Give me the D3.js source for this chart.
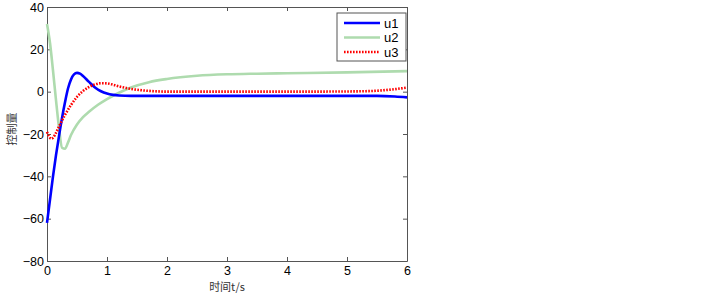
<!DOCTYPE html>
<html>
<head>
<meta charset="utf-8">
<script src="https://cdn.jsdelivr.net/npm/d3@7"></script>
<style>
  body { margin: 0; background: #fff; }
  svg { font-family: "Liberation Sans", Arial, sans-serif; }
  .axis path, .axis line { stroke: #555; }
  .axis text { fill: #000; font-size: 12.5px; }
</style>
</head>
<body>
<svg id="graph" width="722" height="294"></svg>
<script>
// values
var u1T = [0, 0.05, 0.1, 0.15, 0.2, 0.25, 0.3, 0.35, 0.4, 0.45, 0.5, 0.55, 0.6, 0.7, 0.8, 0.9, 1.0, 1.1, 1.2, 1.4, 1.7, 2.0, 3.0, 4.0, 5.0, 5.5, 5.8, 6.0];
var u1V = [-62, -51, -40, -30, -21, -12.5, -5, 1.5, 5.8, 8.2, 8.9, 8.5, 7.4, 4.6, 2, 0.2, -0.9, -1.5, -1.8, -2, -2, -2, -2, -2, -2, -2, -2.3, -2.7];
var u2T = [0, 0.05, 0.1, 0.15, 0.2, 0.25, 0.3, 0.35, 0.4, 0.5, 0.6, 0.7, 0.85, 1.0, 1.2, 1.4, 1.7, 2.0, 2.5, 3.0, 3.5, 4.0, 5.0, 6.0];
var u2V = [32, 23, 10, -4, -17, -26.5, -27, -24, -20.5, -15.5, -12, -9.5, -6.2, -3.5, -0.5, 2, 4.5, 6, 7.5, 8.2, 8.5, 8.7, 9.1, 9.7];
var u3T = [0, 0.03, 0.07, 0.1, 0.15, 0.2, 0.3, 0.4, 0.5, 0.6, 0.7, 0.8, 0.9, 1.0, 1.1, 1.2, 1.4, 1.6, 1.8, 2.0, 3.0, 4.0, 5.0, 5.4, 5.7, 6.0];
var u3V = [-19, -21, -22.2, -21.8, -19.5, -16.5, -11, -6.3, -2.5, 0.3, 2.2, 3.4, 4, 3.9, 3.3, 2.5, 1.3, 0.6, 0.2, 0, 0, 0, 0.1, 0.3, 0.9, 1.9];
var seriesNames = ['u1', 'u2', 'u3'];
var xTicks = [0, 1, 2, 3, 4, 5, 6];
var yTicks = [-80, -60, -40, -20, 0, 20, 40];

var margin = { top: 7, left: 47, bottom: 33, right: 315 };
var width = 722 - margin.left - margin.right;
var height = 294 - margin.top - margin.bottom;

var xScale = d3.scaleLinear().domain([0, 6]).range([0, width]);
var yScale = d3.scaleLinear().domain([-80, 40]).range([height, 0]);
var fmt = d3.format('d');

var svg = d3.select('#graph')
    .append('g')
    .attr('transform', 'translate(' + margin.left + ',' + margin.top + ')');

// box + inside ticks
svg.append('g').attr('class', 'x axis')
    .attr('transform', 'translate(0,' + height + ')')
    .call(d3.axisBottom(xScale).tickValues(xTicks).tickSizeInner(-4).tickSizeOuter(0).tickPadding(5).tickFormat(fmt));
svg.append('g').attr('class', 'x axis')
    .call(d3.axisTop(xScale).tickValues(xTicks).tickSizeInner(-4).tickSizeOuter(0).tickFormat(''));
svg.append('g').attr('class', 'y axis')
    .call(d3.axisLeft(yScale).tickValues(yTicks).tickSizeInner(-4).tickSizeOuter(0).tickPadding(3).tickFormat(fmt));
svg.append('g').attr('class', 'y axis')
    .attr('transform', 'translate(' + width + ',0)')
    .call(d3.axisRight(yScale).tickValues(yTicks).tickSizeInner(-4).tickSizeOuter(0).tickFormat(''));

var line = d3.line()
    .x(function (d) { return xScale(d[0]); })
    .y(function (d) { return yScale(d[1]); })
    .curve(d3.curveMonotoneX);

var styles = [
    { color: '#0000ff', width: 2.6, dash: null },
    { color: '#aedbae', width: 2.6, dash: null },
    { color: '#ff0000', width: 2.6, dash: '1.6,1.4' }
];
var data = [d3.zip(u1T, u1V), d3.zip(u2T, u2V), d3.zip(u3T, u3V)];

// draw green under the others
[1, 0, 2].forEach(function (i) {
    svg.append('path')
        .datum(data[i])
        .attr('fill', 'none')
        .attr('stroke', styles[i].color)
        .attr('stroke-width', styles[i].width)
        .attr('stroke-dasharray', styles[i].dash)
        .attr('d', line);
});

// legend
var legend = svg.append('g').attr('transform', 'translate(' + (width - 70) + ',6)');
legend.append('rect')
    .attr('width', 69).attr('height', 48)
    .attr('fill', '#fff').attr('stroke', '#555');
seriesNames.forEach(function (name, i) {
    var y = 10 + i * 14.5;
    legend.append('line')
        .attr('x1', 7).attr('x2', 43).attr('y1', y).attr('y2', y)
        .attr('stroke', styles[i].color)
        .attr('stroke-width', styles[i].width)
        .attr('stroke-dasharray', styles[i].dash);
    legend.append('text')
        .attr('x', 47).attr('y', y + 4.5)
        .style('font-size', '13px')
        .text(name);
});

// axis labels
svg.append('text')
    .attr('x', xScale(3)).attr('y', height + 30)
    .attr('text-anchor', 'middle')
    .style('font-family', '"Noto Sans CJK SC", sans-serif')
    .style('font-size', '11px').attr('fill', '#333')
    .text('时间t/s');
svg.append('text')
    .attr('transform', 'translate(' + (-31) + ',' + (height / 2 - 5) + ') rotate(-90)')
    .attr('text-anchor', 'middle')
    .style('font-family', '"Noto Sans CJK SC", sans-serif')
    .style('font-size', '11px').attr('fill', '#333')
    .text('控制量');
</script>
</body>
</html>
